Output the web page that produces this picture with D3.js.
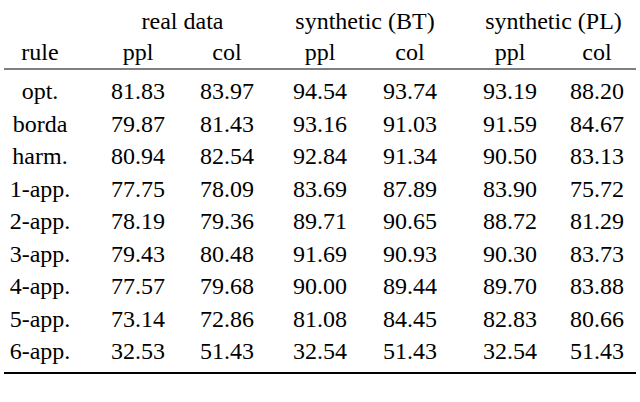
<!DOCTYPE html><html><head><meta charset="utf-8">
<script src="https://cdn.jsdelivr.net/npm/d3@7"></script>
<style>body{margin:0;background:#fff} text{font-family:"Liberation Serif","DejaVu Serif",Times,serif;}</style></head><body>
<svg id="c" width="640" height="402"></svg>
<script>
const rules=["opt.","borda","harm.","1-app.","2-app.","3-app.","4-app.","5-app.","6-app."];
const groups=["real data","synthetic (BT)","synthetic (PL)"];
const subHeaders=["rule","ppl","col","ppl","col","ppl","col"];
const realPpl=["81.83","79.87","80.94","77.75","78.19","79.43","77.57","73.14","32.53"];
const realCol=["83.97","81.43","82.54","78.09","79.36","80.48","79.68","72.86","51.43"];
const btPpl=["94.54","93.16","92.84","83.69","89.71","91.69","90.00","81.08","32.54"];
const btCol=["93.74","91.03","91.34","87.89","90.65","90.93","89.44","84.45","51.43"];
const plPpl=["93.19","91.59","90.50","83.90","88.72","90.30","89.70","82.83","32.54"];
const plCol=["88.20","84.67","83.13","75.72","81.29","83.73","83.88","80.66","51.43"];
const cols=[rules,realPpl,realCol,btPpl,btCol,plPpl,plCol];
const svg=d3.select("#c");
const xPos=[40,138,227,320,410,510,597];
const x=d3.scaleOrdinal().domain(d3.range(7)).range(xPos);
const y=d3.scalePoint().domain(d3.range(rules.length)).range([91,351]);
const t=(X,Y,s)=>svg.append("text").attr("x",X).attr("y",Y).attr("text-anchor","middle").attr("dominant-baseline","central").attr("font-size",24).attr("fill","#000").text(s);
const gx=[(xPos[1]+xPos[2])/2,(xPos[3]+xPos[4])/2,(xPos[5]+xPos[6])/2];
groups.forEach((g,i)=>t(gx[i],21,g));
subHeaders.forEach((h,i)=>t(x(i),52,h));
svg.append("line").attr("x1",4).attr("x2",636).attr("y1",69).attr("y2",69).attr("stroke","#000").attr("stroke-width",1.2);
svg.append("line").attr("x1",4).attr("x2",636).attr("y1",373).attr("y2",373).attr("stroke","#000").attr("stroke-width",2.2);
cols.forEach((c,ci)=>c.forEach((v,ri)=>t(x(ci),y(ri),v)));
</script></body></html>
